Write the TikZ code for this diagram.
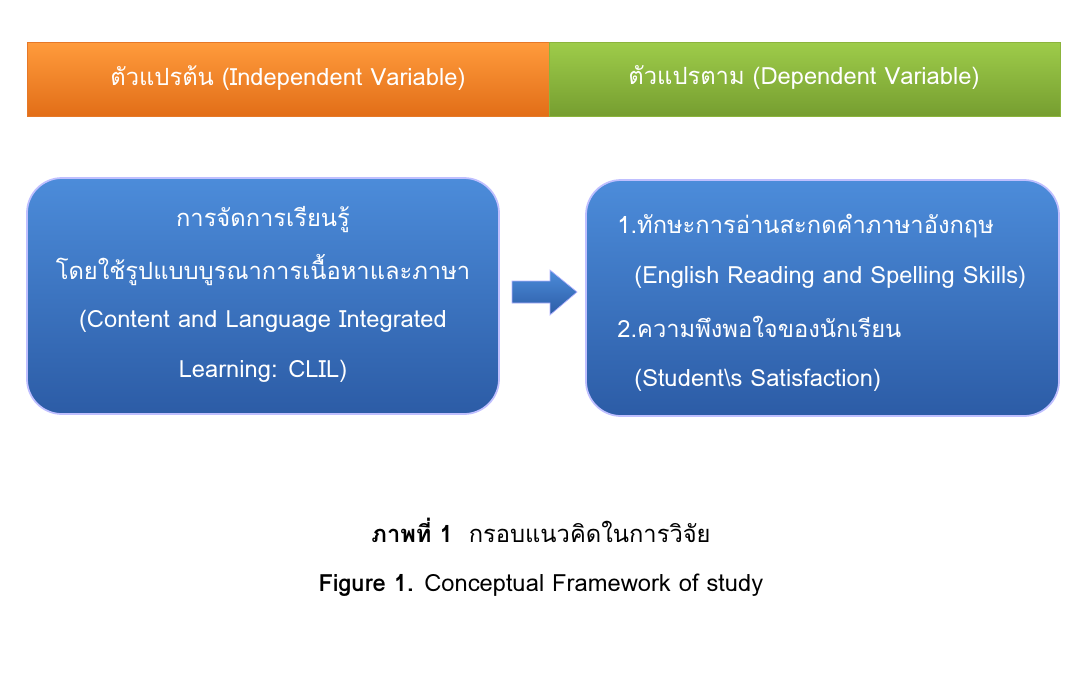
\documentclass[tikz,border=0pt]{standalone}
\usepackage{fontspec}
\setmainfont[Script=Thai]{Loma}
\begin{document}
\begin{tikzpicture}[x=0.02cm,y=-0.02cm,
  t/.style={text=white,font=\fontsize{13.5}{16}\selectfont,inner sep=0pt},
  c/.style={text=black,font=\fontsize{13.5}{16}\selectfont,inner sep=0pt},
  box/.style={draw=blue!25!white,line width=1pt,rounded corners=0.7cm,top color={rgb,255:red,76;green,140;blue,218},bottom color={rgb,255:red,44;green,92;blue,166}}]
\useasboundingbox (0,0) rectangle (1083,687);
\shade[top color={rgb,255:red,255;green,155;blue,60},bottom color={rgb,255:red,226;green,110;blue,24}] (27,42) rectangle (549,116);
\draw[draw={rgb,255:red,230;green,120;blue,40}] (27,42) rectangle (549,116);
\shade[top color={rgb,255:red,158;green,204;blue,74},bottom color={rgb,255:red,118;green,158;blue,48}] (549,42) rectangle (1060,116);
\draw[draw={rgb,255:red,140;green,180;blue,60}] (549,42) rectangle (1060,116);
\node[t] (h1) at (288,78) {ตัวแปรต้น (Independent Variable)};
\node[t] (h2) at (804,78) {ตัวแปรตาม (Dependent Variable)};
\path[box] (27,178) rectangle (499,414);
\path[box] (586,180) rectangle (1059,416);
\node[t] (l1) at (263,220) {การจัดการเรียนรู้};
\node[t] (l2) at (263,270) {โดยใช้รูปแบบบูรณาการเนื้อหาและภาษา};
\node[t] (l3) at (263,321) {(Content and Language Integrated};
\node[t] (l4) at (263,371) {Learning: CLIL)};
\node[t,anchor=west] (r1) at (617,226) {1.ทักษะการอ่านสะกดคำภาษาอังกฤษ};
\node[t,anchor=west] (r2) at (634,277) {(English Reading and Spelling Skills)};
\node[t,anchor=west] (r3) at (617,327) {2.ความพึงพอใจของนักเรียน};
\node[t,anchor=west] (r4) at (634,380) {(Student\textbackslash s Satisfaction)};
\shade[top color={rgb,255:red,76;green,140;blue,218},bottom color={rgb,255:red,44;green,92;blue,166},draw=blue!30!white]
 (512,281) -- (550,281) -- (550,270) -- (577,292) -- (550,315) -- (550,303) -- (512,303) -- cycle;
\node[c] (cap1) at (541,530) {\textbf{ภาพที่ 1}\ \ กรอบแนวคิดในการวิจัย};
\node[c] (cap2) at (541,585) {\textbf{Figure 1.} Conceptual Framework of study};
\end{tikzpicture}
\end{document}
